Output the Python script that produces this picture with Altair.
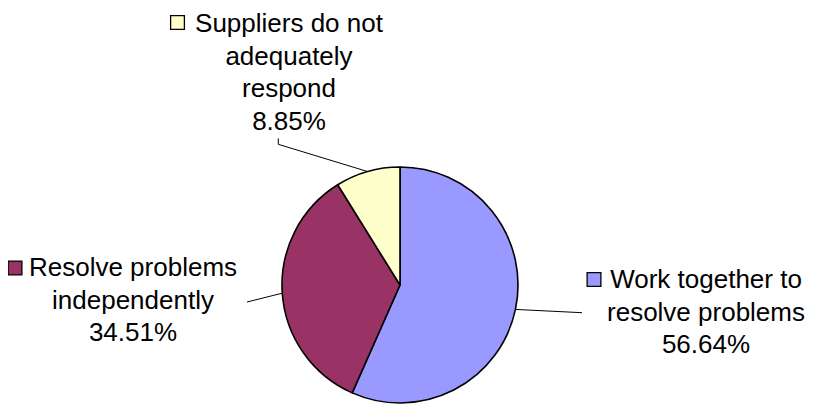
import altair as alt
import pandas as pd

# ---- data ----
categories = [
    "Work together to resolve problems",
    "Resolve problems independently",
    "Suppliers do not adequately respond",
]
values = [56.64, 34.51, 8.85]
colors = ["#9999FF", "#993366", "#FFFFCC"]

# ---- layout (plot-area pixels) ----
W, H = 798, 398
CX, CY, R = 392, 277, 118
label_lines = [
    "Work together to\nresolve problems",
    "Resolve problems\nindependently",
    "Suppliers do not\nadequately\nrespond",
]
label_x = [698, 125, 281]        # text centre
label_y = [280, 268, 24]         # first baseline
box_x = [586, 7, 169.5]
box_y = [271.5, 260, 14.5]
line_h = [32.8, 32.8, 32.0]
lead_x = [574, 239, 270.3]       # leader start at label side
lead_y = [304.7, 294, 136.3]
elbow_y = [304.7, 294, 130.3]    # short vertical tick (only where different)

df = pd.DataFrame({
    "category": categories,
    "value": values,
    "idx": list(range(len(categories))),
    "lines": label_lines,
    "tx": label_x, "ty": label_y,
    "bx": box_x, "by": box_y,
    "sx": lead_x, "sy": lead_y, "ey0": elbow_y,
})

color_scale = alt.Scale(domain=categories, range=colors)
base = alt.Chart(df)

pie = base.mark_arc(radius=R, stroke="black", strokeWidth=1.6, strokeJoin="round").encode(
    theta=alt.Theta("value:Q", stack=True),
    order=alt.Order("idx:Q"),
    color=alt.Color("category:N", scale=color_scale, legend=None),
    x=alt.value(CX),
    y=alt.value(CY),
)

leaders = base.transform_joinaggregate(total="sum(value)").transform_window(
    cum="sum(value)", sort=[alt.SortField("idx")], frame=[None, 0]
).transform_calculate(
    mid="(datum.cum - datum.value/2)/datum.total*2*PI",
    ex=f"{CX} + {R}*sin(datum.mid)",
    ey=f"{CY} - {R}*cos(datum.mid)",
).mark_rule(color="black", strokeWidth=1).encode(
    x=alt.X("sx:Q", scale=None, axis=None),
    y=alt.Y("sy:Q", scale=None, axis=None),
    x2="ex:Q",
    y2="ey:Q",
)

elbows = base.transform_filter("datum.ey0 != datum.sy").mark_rule(
    color="black", strokeWidth=1
).encode(
    x=alt.X("sx:Q", scale=None, axis=None),
    y=alt.Y("ey0:Q", scale=None, axis=None),
    y2="sy:Q",
)

boxes = base.mark_square(size=190, stroke="black", strokeWidth=1.3, opacity=1).encode(
    x=alt.X("bx:Q", scale=None, axis=None),
    y=alt.Y("by:Q", scale=None, axis=None),
    color=alt.Color("category:N", scale=color_scale, legend=None),
)

texts = base.transform_calculate(
    label="datum.lines + '\\n' + format(datum.value, '.2f') + '%'"
).mark_text(
    align="center", baseline="alphabetic", fontSize=26, font="Liberation Sans",
    lineBreak="\n", lineHeight=32.6, color="black",
).encode(
    x=alt.X("tx:Q", scale=None, axis=None),
    y=alt.Y("ty:Q", scale=None, axis=None),
    text="label:N",
)

chart = alt.layer(pie, leaders, elbows, boxes, texts).properties(
    width=W, height=H, autosize=alt.AutoSizeParams(type="none"), padding=0,
    background="white",
).configure_view(stroke=None)

chart.save("out.html", embed_options={"renderer": "svg", "actions": False})
